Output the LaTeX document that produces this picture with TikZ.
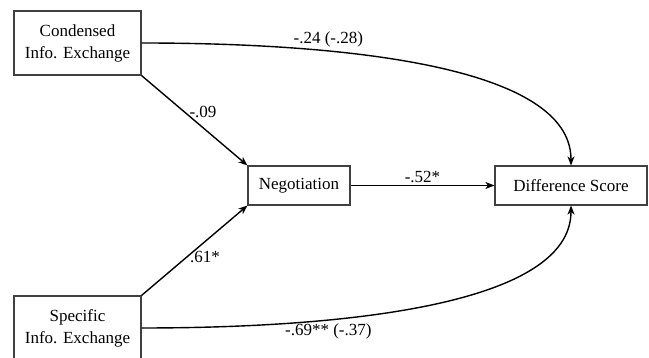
\documentclass[tikz,border=0pt]{standalone}
\usepackage{fontspec}
\setmainfont{Liberation Serif}
\usetikzlibrary{arrows.meta}
\tikzset{varbox/.style={draw=black!75,line width=1.1pt,align=center,inner sep=0pt},
  link/.style={-{Stealth[length=9pt,width=7pt,inset=2.5pt]},line width=1.4pt},
  coef/.style={inner sep=1pt}}

\begin{document}
\begin{tikzpicture}[x=1pt,y=1pt,font=\fontsize{17}{22}\selectfont]
        \useasboundingbox (0,0) rectangle (649,358);
        \node[varbox,minimum width=127pt,minimum height=64pt] (cond) at (77.5,315) {Condensed\\Info. Exchange};
        \node[varbox,minimum width=127pt,minimum height=64pt] (spec) at (77.5,30) {Specific\\Info. Exchange};
        \node[varbox,minimum width=102pt,minimum height=39pt] (neg) at (299,172.5) {Negotiation};
        \node[varbox,minimum width=152pt,minimum height=39pt] (diff) at (571,172.5) {Difference Score};
        \draw[link] (cond.south east) -- node[coef,pos=.58,above=8pt] {-.09} (neg.north west);
        \draw[link] (spec.north east) -- node[coef,pos=.6,below=8pt] {.61*} (neg.south west);
        \draw[link] (neg) -- node[coef,above=1pt] {-.52*} (diff);
        \draw[link] (cond.east) .. controls +(200,0) and +(0,100) .. node[coef,pos=.31,above=2pt] {-.24 (-.28)} (diff.north);
        \draw[link] (spec.east) .. controls +(200,0) and +(0,-100) .. node[coef,pos=.31,below=2pt] {-.69** (-.37)} (diff.south);
      \end{tikzpicture}
\end{document}
